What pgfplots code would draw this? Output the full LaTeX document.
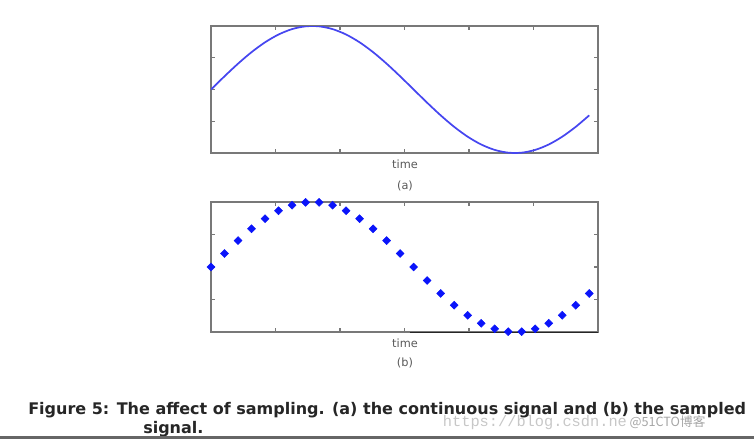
\documentclass[border=0pt]{standalone}
\usepackage{pgfplots}
\pgfplotsset{compat=1.18}
\usepackage{pgfplotstable}
\usepackage{fontspec}
\setmainfont{DejaVu Sans}
\newfontfamily\capfont{DejaVu Sans}
\newfontfamily\wmmono{Liberation Mono}
\newfontfamily\cjk{Noto Sans CJK SC}

\pgfplotstableread{
t      v
0.0000  0.0000
0.2094  0.2079
0.4189  0.4067
0.6283  0.5878
0.8378  0.7431
1.0472  0.8660
1.2566  0.9511
1.4661  0.9945
1.6755  0.9945
1.8850  0.9511
2.0944  0.8660
2.3038  0.7431
2.5133  0.5878
2.7227  0.4067
2.9322  0.2079
3.1416  0.0000
3.3510 -0.2079
3.5605 -0.4067
3.7699 -0.5878
3.9794 -0.7431
4.1888 -0.8660
4.3982 -0.9511
4.6077 -0.9945
4.8171 -0.9945
5.0265 -0.9511
5.2360 -0.8660
5.4454 -0.7431
5.6549 -0.5878
5.8643 -0.4067
}\samples

\definecolor{frame}{RGB}{120,120,120}
\definecolor{curve}{RGB}{70,70,240}
\definecolor{dots}{RGB}{10,20,250}

\pgfplotsset{
  sig/.style={
    scale only axis,
    anchor=north west,
    width=290.25pt,
    xmin=0, xmax=6,
    ymin=-1, ymax=1,
    xtick={0,1,...,6},
    ytick={-1,-0.5,0,0.5,1},
    xticklabels={}, yticklabels={},
    tick align=inside,
    major tick length=3pt,
    axis line style={frame, line width=1.1pt},
    tick style={frame, line width=0.8pt},
  }
}

\begin{document}
\begin{tikzpicture}
  \useasboundingbox (0,0) rectangle (565.5pt,-329.25pt);

  \begin{axis}[sig, at={(158.25pt,-19.5pt)}, height=95.25pt]
    \addplot[curve, line width=1.3pt, smooth] table[x=t, y=v] {\samples};
  \end{axis}

  \begin{axis}[sig, at={(158.25pt,-151.5pt)}, height=97.5pt, clip=false]
    \draw[black!85, line width=1.3pt, yshift=-0.4pt] (axis cs:3.08,-1) -- (axis cs:6,-1);
    \addplot[only marks, dots, mark=square*, mark options={rotate=45}, mark size=2.1pt]
      table[x=t, y=v] {\samples};
  \end{axis}

  \node[font=\fontsize{8.5}{10}\selectfont, text=black!65] at (303.75pt,-123pt) {time};
  \node[font=\fontsize{8.5}{10}\selectfont, text=black!65] at (303.75pt,-139.5pt) {(a)};
  \node[font=\fontsize{8.5}{10}\selectfont, text=black!65] at (303.75pt,-257.25pt) {time};
  \node[font=\fontsize{8.5}{10}\selectfont, text=black!65] at (303.75pt,-272.25pt) {(b)};

  % watermark
  \node[anchor=base west, inner sep=0pt, text=black!22, font=\wmmono\fontsize{11.5}{12}\selectfont]
    at (332pt,-319.5pt) {https://blog.csdn.ne};
  \node[anchor=base west, inner sep=0pt, text=black!35, font=\cjk\fontsize{9.5}{11}\selectfont]
    at (472pt,-319.5pt) {@51CTO博客};

  % caption
  \node[anchor=base west, inner sep=0pt, text=black!85, font=\capfont\bfseries\fontsize{12}{14}\selectfont]
    at (21pt,-310.5pt) {Figure 5: The affect of sampling. (a) the continuous signal and (b) the sampled};
  \node[anchor=base west, inner sep=0pt, text=black!85, font=\capfont\bfseries\fontsize{12}{14}\selectfont]
    at (107.25pt,-325pt) {signal.};

  \draw[black!60, line width=2.2pt] (0,-327.9pt) -- (565.5pt,-327.9pt);
\end{tikzpicture}
\end{document}
